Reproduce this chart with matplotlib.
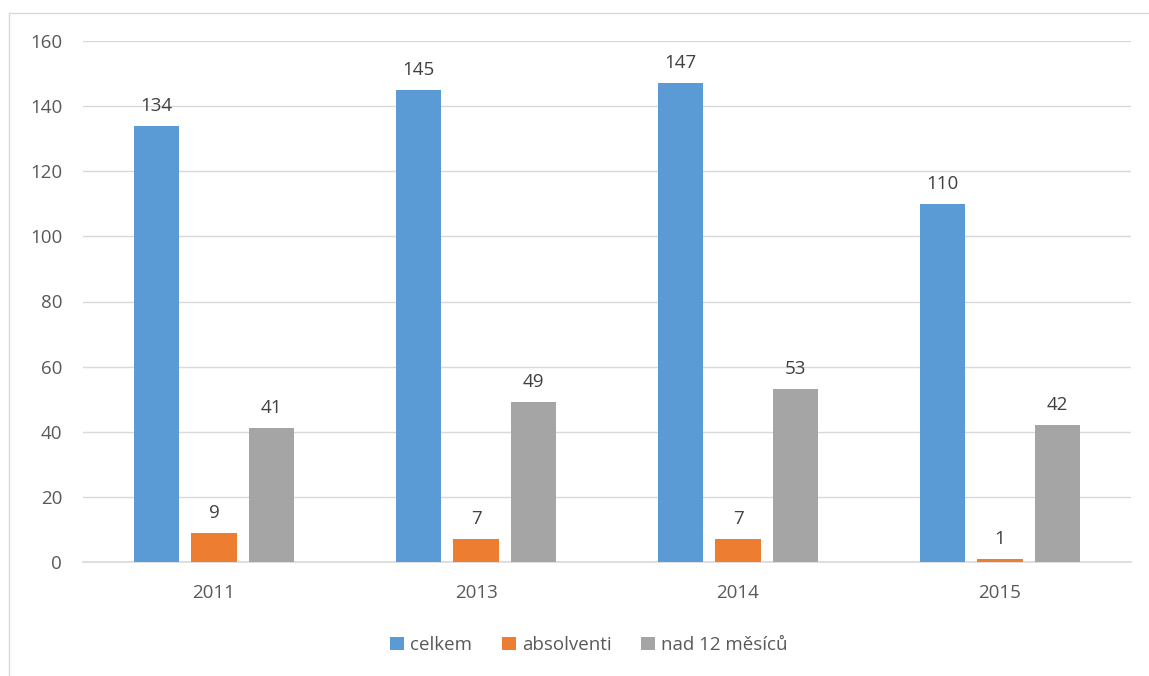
import matplotlib.pyplot as plt
import numpy as np
from matplotlib.lines import Line2D

years = ["2011", "2013", "2014", "2015"]
celkem = [134, 145, 147, 110]
absolventi = [9, 7, 7, 1]
nad12 = [41, 49, 53, 42]

series = [
    ("celkem", celkem, "#5B9BD5"),
    ("absolventi", absolventi, "#ED7D31"),
    ("nad 12 měsíců", nad12, "#A5A5A5"),
]

plt.rcParams["font.family"] = ["Open Sans", "DejaVu Sans"]
TXT = "#595959"

fig = plt.figure(figsize=(11.49, 6.76), dpi=100)
ax = fig.add_axes([83 / 1149, 1 - 562 / 676, (1131 - 83) / 1149, (562 - 41) / 676])

x = np.arange(len(years))
w = 0.172
step = 0.22
for i, (name, vals, col) in enumerate(series):
    pos = x + (i - 1) * step
    bars = ax.bar(pos, vals, width=w, color=col, label=name, zorder=3)
    for b, v in zip(bars, vals):
        ax.annotate(str(v), (b.get_x() + b.get_width() / 2, v), xytext=(0, 8),
                    textcoords="offset points", ha="center", va="bottom",
                    fontsize=13.5, color="#404040")

ax.set_xlim(-0.5, len(years) - 0.5)
ax.set_ylim(0, 160)
ax.set_yticks(range(0, 161, 20))
ax.set_xticks(x)
ax.set_xticklabels(years)
ax.yaxis.grid(True, color="#D9D9D9", linewidth=1, zorder=0)
for s in ["top", "right", "left"]:
    ax.spines[s].set_visible(False)
ax.spines["bottom"].set_color("#D9D9D9")
ax.spines["bottom"].set_linewidth(1.2)
ax.tick_params(axis="both", length=0, labelsize=13.5, colors=TXT)
ax.tick_params(axis="y", pad=15)
ax.tick_params(axis="x", pad=16)

leg = fig.legend(loc="center", bbox_to_anchor=(589 / 1149, 1 - 645 / 676), ncol=3,
                 frameon=False, fontsize=13.5, handlelength=0.75, handleheight=0.75,
                 handletextpad=0.3, columnspacing=1.6)
for t in leg.get_texts():
    t.set_color(TXT)

# outer chart frame (left and top edges visible)
fig.add_artist(Line2D([9 / 1149, 9 / 1149], [0, 1 - 13 / 676], color="#D9D9D9", linewidth=1))
fig.add_artist(Line2D([9 / 1149, 1], [1 - 13 / 676, 1 - 13 / 676], color="#D9D9D9", linewidth=1))

fig.savefig("out.png", dpi=100)
